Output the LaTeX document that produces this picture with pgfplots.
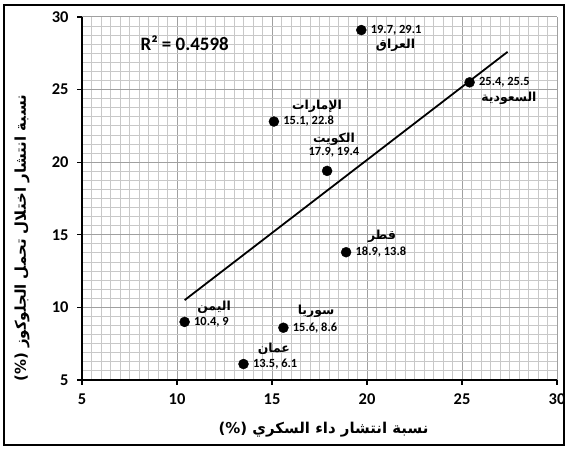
\documentclass[border=0pt]{standalone}
\usepackage{fontspec}
\usepackage{pgfplots}
\pgfplotsset{compat=1.18}
\setmainfont{Carlito}
\newfontfamily\arabicfont[Script=Arabic]{DejaVu Sans}
\TeXXeTstate=1
\newcommand{\ar}[1]{{\arabicfont\bfseries\beginR #1\endR}}
\definecolor{mingrid}{RGB}{200,200,200}
\definecolor{majgrid}{RGB}{160,160,160}
\begin{document}
\begin{tikzpicture}[x=1bp,y=1bp]
\useasboundingbox (0,0) rectangle (568,450);
\draw[line width=1.2bp] (4,5) rectangle (564,445);
\begin{axis}[
  at={(82bp,70bp)}, anchor=south west,
  width=475bp, height=363bp, scale only axis,
  xmin=5, xmax=30, ymin=5, ymax=30,
  xtick={5,10,...,30}, ytick={5,10,...,30},
  minor x tick num=9, minor y tick num=7,
  grid=both,
  major grid style={draw=majgrid, line width=1bp},
  minor grid style={draw=mingrid, line width=0.9bp},
  axis lines=left, axis line style={-, line width=1.3bp, black},
  tick align=outside, major tick length=5bp, minor tick length=0pt,
  tick style={black, line width=1.2bp},
  /pgf/number format/assume math mode=true,
  ticklabel style={font=\fontsize{16.5}{16.5}\selectfont\bfseries},
  xticklabel style={yshift=-5bp},
  yticklabel style={xshift=-5bp},
  every axis x label/.style={at={(rel axis cs:0.5,0)}, xshift=4bp, yshift=-50bp, anchor=center},
  every axis y label/.style={at={(rel axis cs:0,0.39)}, xshift=-60bp, rotate=90, anchor=center},
  xlabel={\fontsize{15}{15}\selectfont\ar{نسبة انتشار داء السكري (\%)}},
  ylabel={\fontsize{15}{15}\selectfont\ar{نسبة انتشار اختلال تحمل الجلوكوز (\%)}},
  clip=false,
]
\addplot[black, line width=1.8bp] coordinates {(10.4,10.5) (27.4,27.6)};
\addplot[only marks, mark=*, mark size=5bp, mark options={fill=black, draw=black}] coordinates {
 (19.7,29.1) (25.4,25.5) (15.1,22.8) (17.9,19.4) (18.9,13.8) (10.4,9) (15.6,8.6) (13.5,6.1)};
\begin{scope}[every node/.style={font=\fontsize{12.5}{13}\selectfont\bfseries}]
\node[anchor=west] at (axis cs:19.7,29.1) {\hspace{6bp}19.7, 29.1};
\node[anchor=west] at (axis cs:25.4,25.5) {\hspace{6bp}25.4, 25.5};
\node[anchor=west] at (axis cs:15.1,22.8) {\hspace{6bp}15.1, 22.8};
\node[anchor=center] at (axis cs:18.26,20.7) {17.9, 19.4};
\node[anchor=west] at (axis cs:18.9,13.8) {\hspace{6bp}18.9, 13.8};
\node[anchor=west] at (axis cs:10.4,9) {\hspace{6bp}10.4, 9};
\node[anchor=west] at (axis cs:15.6,8.6) {\hspace{6bp}15.6, 8.6};
\node[anchor=west] at (axis cs:13.5,6.1) {\hspace{6bp}13.5, 6.1};
\end{scope}
\begin{scope}[every node/.style={font=\fontsize{12.5}{13}\selectfont}]
\node at (axis cs:21.5,28.07) {\ar{العراق}};
\node at (axis cs:27.47,24.42) {\ar{السعودية}};
\node at (axis cs:17.37,23.87) {\ar{الإمارات}};
\node at (axis cs:18.26,21.6) {\ar{الكويت}};
\node at (axis cs:20.79,14.92) {\ar{قطر}};
\node at (axis cs:11.95,10.03) {\ar{اليمن}};
\node at (axis cs:17.32,9.75) {\ar{سوريا}};
\node at (axis cs:15.1,7.13) {\ar{عمان}};
\end{scope}
\node[anchor=west, font=\fontsize{19}{19}\selectfont\bfseries] at (axis cs:7.9,28.2) {R² = 0.4598};
\end{axis}
\end{tikzpicture}
\end{document}
